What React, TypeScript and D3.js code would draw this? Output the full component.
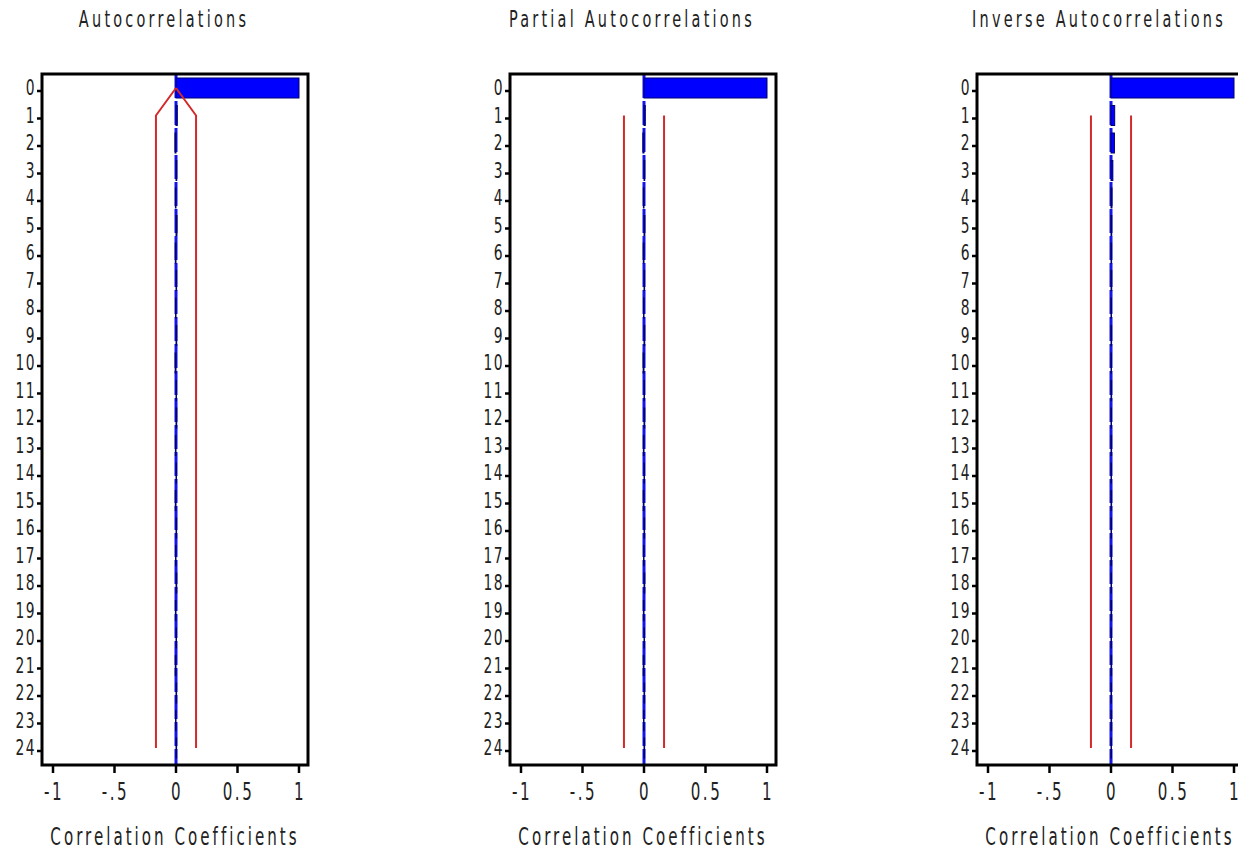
import React from 'react';
import * as d3 from 'd3';

// lags shown on the vertical axis
const lags = [0, 1, 2, 3, 4, 5, 6, 7, 8, 9, 10, 11, 12, 13, 14, 15, 16, 17, 18, 19, 20, 21, 22, 23, 24];

// correlation values (all lags > 0 are close to zero)
const acfValues = [1, 0.01, -0.008, 0.006, -0.005, 0.008, -0.006, 0.005, -0.004, 0.006, -0.007, 0.004, 0.006,
  -0.005, 0.004, -0.006, 0.005, -0.004, 0.006, -0.005, 0.004, -0.006, 0.005, -0.004, 0.005];
const pacfValues = [1, 0.01, -0.009, 0.006, -0.005, 0.007, -0.006, 0.005, -0.004, 0.006, -0.007, 0.004, 0.006,
  -0.005, 0.004, -0.006, 0.005, -0.004, 0.006, -0.005, 0.004, -0.006, 0.005, -0.004, 0.005];
const iacfValues = [1, 0.03, 0.028, 0.015, 0.008, 0.006, 0.005, 0.006, 0.004, 0.005, 0.004, 0.005, 0.004,
  0.005, 0.004, 0.005, 0.004, 0.005, 0.004, 0.005, 0.004, 0.005, 0.004, 0.005, 0.004];

// two standard error limits (NaN = not drawn)
const acfLimit = [0, 0.163, 0.163, 0.163, 0.163, 0.163, 0.163, 0.163, 0.163, 0.163, 0.163, 0.163, 0.163,
  0.163, 0.163, 0.163, 0.163, 0.163, 0.163, 0.163, 0.163, 0.163, 0.163, 0.163, 0.163];
const pacfLimit = [NaN, 0.163, 0.163, 0.163, 0.163, 0.163, 0.163, 0.163, 0.163, 0.163, 0.163, 0.163, 0.163,
  0.163, 0.163, 0.163, 0.163, 0.163, 0.163, 0.163, 0.163, 0.163, 0.163, 0.163, 0.163];
const iacfLimit = [NaN, 0.163, 0.163, 0.163, 0.163, 0.163, 0.163, 0.163, 0.163, 0.163, 0.163, 0.163, 0.163,
  0.163, 0.163, 0.163, 0.163, 0.163, 0.163, 0.163, 0.163, 0.163, 0.163, 0.163, 0.163];

const titles = ['Autocorrelations', 'Partial Autocorrelations', 'Inverse Autocorrelations'];
const xTicks = [-1, -0.5, 0, 0.5, 1];
const xTickLabels = ['-1', '-.5', '0', '0.5', '1'];
const axisTitle = 'Correlation Coefficients';

const W = 1238;
const H = 850;
const FONT = '"DejaVu Sans Condensed", "DejaVu Sans", sans-serif';

const panels = [
  { title: titles[0], values: acfValues, limit: acfLimit, left: 53 },
  { title: titles[1], values: pacfValues, limit: pacfLimit, left: 521 },
  { title: titles[2], values: iacfValues, limit: iacfLimit, left: 988 },
];

const y = d3.scalePoint<number>().domain(lags).range([88, 748]);
const frameTop = 74;
const frameBottom = 765;
const barH = 20;

// tall, narrow text like the SAS stroke font
function Txt({ x, y, size, spacing, anchor, children }: any) {
  return (
    <text transform={`translate(${x},${y}) scale(0.7,1)`} textAnchor={anchor || 'middle'}
      fontFamily={FONT} fontSize={size} letterSpacing={spacing} fill="#222">{children}</text>
  );
}

function Panel({ p }: { p: typeof panels[0] }) {
  const x = d3.scaleLinear().domain([-1, 1]).range([p.left, p.left + 246]);
  const fl = x(-1) - 11;
  const fr = x(1) + 9;

  const limitPts = lags.map((l, i) => ({ lag: l, v: p.limit[i] }));
  const upper = d3.line<{ lag: number; v: number }>()
    .defined(d => !isNaN(d.v))
    .x(d => x(d.v))
    .y(d => y(d.lag)!);
  const lower = d3.line<{ lag: number; v: number }>()
    .defined(d => !isNaN(d.v))
    .x(d => x(-d.v))
    .y(d => y(d.lag)!);

  return (
    <g>
      <Txt x={x(0) - 12} y={27} size={23} spacing={4.6}>{p.title}</Txt>

      {/* zero reference */}
      <line x1={x(0)} x2={x(0)} y1={frameTop} y2={frameBottom} stroke="#1414e6" strokeWidth={3}
        strokeDasharray="24,3" />

      {/* bars */}
      {lags.map((l, i) => {
        const v = p.values[i];
        const x0 = Math.min(x(0), x(v));
        const w = Math.abs(x(v) - x(0));
        return (
          <rect key={l} x={x0} y={y(l)! - barH / 2} width={Math.max(w, 0.5)} height={barH}
            fill="#0000ff" stroke="#000070" strokeWidth={1} />
        );
      })}

      {/* limits */}
      <path d={upper(limitPts) || ''} fill="none" stroke="#d42a2a" strokeWidth={2} />
      <path d={lower(limitPts) || ''} fill="none" stroke="#d42a2a" strokeWidth={2} />

      {/* frame */}
      <rect x={fl} y={frameTop} width={fr - fl} height={frameBottom - frameTop} fill="none"
        stroke="#000" strokeWidth={3} />

      {/* y ticks */}
      {lags.map(l => (
        <g key={l}>
          <line x1={fl - 5} x2={fl} y1={y(l)! + 3} y2={y(l)! + 3} stroke="#000" strokeWidth={2.5} />
          <Txt x={fl - 6} y={y(l)! + 7} size={22} spacing={2} anchor="end">{l}</Txt>
        </g>
      ))}

      {/* x ticks */}
      {xTicks.map((t, i) => (
        <g key={t}>
          <line x1={x(t)} x2={x(t)} y1={frameBottom} y2={frameBottom + 8} stroke="#000" strokeWidth={2.5} />
          <Txt x={x(t) + 1} y={800} size={24} spacing={3.6}>{xTickLabels[i]}</Txt>
        </g>
      ))}

      <Txt x={x(0) - 1} y={845} size={24} spacing={4.3}>{axisTitle}</Txt>
    </g>
  );
}

export default function App() {
  return (
    <svg width={W} height={H} style={{ position: 'absolute', left: 0, top: 0, background: '#fff' }}>
      <rect x={0} y={0} width={W} height={H} fill="#fff" />
      {panels.map(p => <Panel key={p.title} p={p} />)}
    </svg>
  );
}
